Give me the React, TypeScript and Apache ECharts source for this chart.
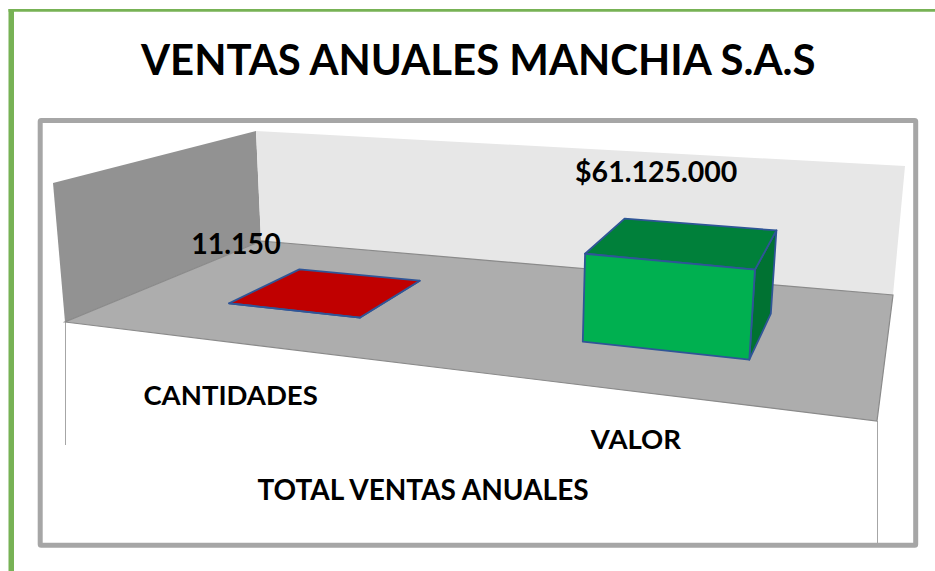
import React, { useEffect, useRef } from "react";
import * as echarts from "echarts";

const titleText = "VENTAS ANUALES MANCHIA S.A.S";
const axisTitle = "TOTAL VENTAS ANUALES";
const categories = ["CANTIDADES", "VALOR"];
const totals = [11150, 61125000];
const valueMax = 99000000;

const FONT = "Lato, 'Open Sans', sans-serif";
type P = [number, number];

// Scene corners of the 3D box, in page pixels: front-left, front-right, back-right, back-left
const FLOOR: P[] = [[65, 322], [877, 421], [893, 295], [261, 241]];
const WALL_TOP: P[] = [[53, 183], [256, 131], [905, 166]];
// Verticals of the scene converge on this point below the page; the lift per unit of height
// is a fraction of the distance to it, measured at each floor corner
const VANISH: P = [462, 4926];
const LIFT = [0.0302, 0.0346, 0.0279, 0.0235];

function homography(q: P[]) {
  const [[x0, y0], [x1, y1], [x2, y2], [x3, y3]] = q;
  const dx1 = x1 - x2, dx2 = x3 - x2, sx = x0 - x1 + x2 - x3;
  const dy1 = y1 - y2, dy2 = y3 - y2, sy = y0 - y1 + y2 - y3;
  const det = dx1 * dy2 - dx2 * dy1;
  const g = (sx * dy2 - dx2 * sy) / det;
  const h = (dx1 * sy - sx * dy1) / det;
  const a = x1 - x0 + g * x1, b = x3 - x0 + h * x3;
  const d = y1 - y0 + g * y1, e = y3 - y0 + h * y3;
  return (u: number, v: number): P => {
    const w = g * u + h * v + 1;
    return [(a * u + b * v + x0) / w, (d * u + e * v + y0) / w];
  };
}
const floorAt = homography(FLOOR);
const project = (u: number, v: number, t: number): P => {
  const f = floorAt(u, v);
  const near = LIFT[0] + (LIFT[1] - LIFT[0]) * u;
  const far = LIFT[3] + (LIFT[2] - LIFT[3]) * u;
  const k = (near + (far - near) * v) * t;
  return [f[0] - (VANISH[0] - f[0]) * k, f[1] - (VANISH[1] - f[1]) * k];
};

const DEPTH_FRONT = 0.3;
const DEPTH_BACK = 0.7;
const BAR_RATIO = 0.398;
const BAND_SHIFT = 0.0045;
const faceColors = [
  { front: "#c00000", top: "#c00000", side: "#900000" },
  { front: "#00b050", top: "#00803a", side: "#007232" },
];
const labelOffset: P[] = [[-91.5, -49], [-28, -71]];
const catOffset: P[] = [[-62.5, 84], [-28, 88]];
const EDGE = "#2f5597";

const fmtThousands = (n: number) => String(n).replace(/\B(?=(\d{3})+(?!\d))/g, ".");
const labelFor = (i: number) => (i === 1 ? "$" : "") + fmtThousands(totals[i]);

function renderBar(params: any, api: any) {
  const i = api.value(0);
  const rect = params.coordSys;
  const pt = api.coord([i, api.value(1)]);
  const half = (api.size([1, 0])[0] * BAR_RATIO) / 2 / rect.width;
  const uc = (pt[0] - rect.x) / rect.width + BAND_SHIFT;
  const t = (rect.y + rect.height - pt[1]) / rect.height;
  const u0 = uc - half, u1 = uc + half;
  const v0 = DEPTH_FRONT, v1 = DEPTH_BACK;
  const col = faceColors[i];
  const A = project(u0, v0, 0), B = project(u1, v0, 0), C = project(u1, v1, 0);
  const a = project(u0, v0, t), b = project(u1, v0, t), c = project(u1, v1, t), d = project(u0, v1, t);
  const face = (points: P[], fill: string) => ({
    type: "polygon",
    shape: { points },
    style: { fill, stroke: EDGE, lineWidth: 1.8, lineJoin: "round" },
  });
  const mid = project(uc, (v0 + v1) / 2, t);
  const front = project(uc, v0, 0);
  const text = (s: string, x: number, y: number, size: number) => ({
    type: "text",
    z2: 20,
    style: { text: s, x, y, fill: "#000", align: "center", verticalAlign: "middle", font: `bold ${size}px ${FONT}` },
  });
  return {
    type: "group",
    children: [
      face([B, C, c, b], col.side),
      face([a, b, c, d], col.top),
      face([A, B, b, a], col.front),
      text(labelFor(i), mid[0] + labelOffset[i][0], mid[1] + labelOffset[i][1], 28.5),
      text(categories[i], front[0] + catOffset[i][0], front[1] + catOffset[i][1], 27.5),
    ],
  };
}

export default function App() {
  const ref = useRef<HTMLDivElement>(null);
  useEffect(() => {
    document.body.style.margin = "0";
    const chart = echarts.init(ref.current!, null, { renderer: "svg" });
    const poly = (points: P[], fill: any, extra: any = {}) => ({
      type: "polygon", silent: true, z: 1, shape: { points }, style: { fill, ...extra },
    });
    const vline = (x: number, y1: number, y2: number) => ({
      type: "line", silent: true, z: 1,
      shape: { x1: x, y1, x2: x, y2 },
      style: { stroke: "#a6a6a6", lineWidth: 1 },
    });
    chart.setOption({
      animation: false,
      backgroundColor: "#ffffff",
      title: {
        text: titleText,
        left: 136,
        top: 33,
        textStyle: { fontFamily: FONT, fontWeight: "bold", fontSize: 41.9, color: "#000" },
      },
      grid: { left: 65, top: 183, width: 716, height: 139 },
      xAxis: {
        type: "category",
        data: categories,
        axisLine: { show: false },
        axisTick: { show: false },
        axisLabel: { show: false },
        splitLine: { show: false },
        name: axisTitle,
        nameLocation: "middle",
        nameGap: 153,
        nameTextStyle: { fontFamily: FONT, fontWeight: "bold", fontSize: 28, color: "#000" },
      },
      yAxis: { type: "value", min: 0, max: valueMax, show: false },
      graphic: [
        { type: "rect", silent: true, z: 0, shape: { x: 8.5, y: 9, width: 5.5, height: 562 }, style: { fill: "#77b255" } },
        { type: "rect", silent: true, z: 0, shape: { x: 8.5, y: 9, width: 926.5, height: 2.8 }, style: { fill: "#77b255" } },
        {
          type: "rect", silent: true, z: 0,
          shape: { x: 40.2, y: 120.5, width: 875.5, height: 424.7, r: 1 },
          style: { fill: "#fff", stroke: "#a6a6a6", lineWidth: 5 },
        },
        vline(65.5, 322, 445),
        vline(877.5, 421, 543),
        poly([WALL_TOP[0], WALL_TOP[1], FLOOR[3], FLOOR[0]], "#929292"),
        poly([WALL_TOP[1], WALL_TOP[2], FLOOR[2], FLOOR[3]], "#e7e7e7"),
        poly(FLOOR, "#adadad", { stroke: "#8a8a8a", lineWidth: 1.2 }),
      ],
      series: [
        {
          type: "custom",
          coordinateSystem: "cartesian2d",
          renderItem: renderBar,
          encode: { x: 0, y: 1 },
          data: totals.map((v, i) => [i, v]),
          silent: true,
          z: 5,
        },
      ],
    });
    return () => chart.dispose();
  }, []);
  return <div ref={ref} style={{ position: "absolute", left: 0, top: 0, width: 935, height: 571 }} />;
}
